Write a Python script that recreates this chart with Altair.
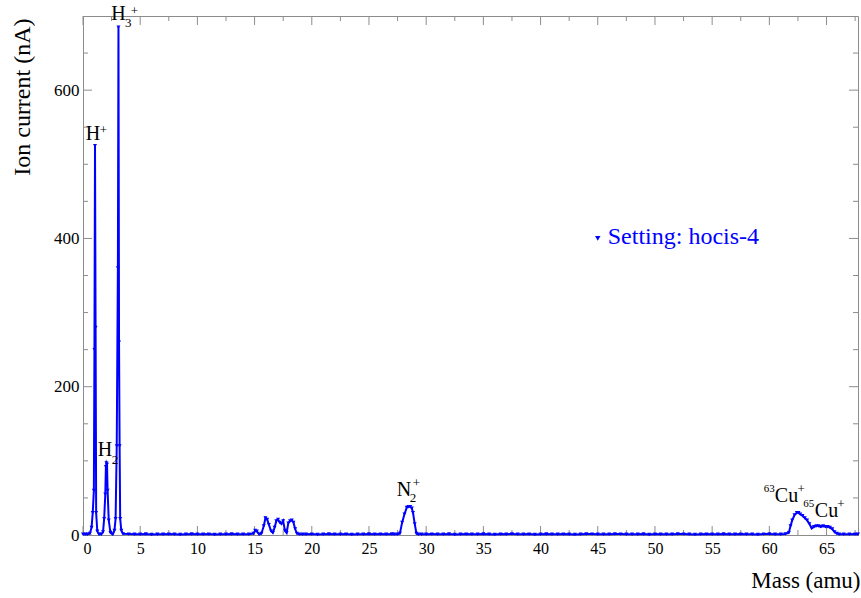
import altair as alt
import pandas as pd

# ---- measured ion current vs. mass ----
# hydrogen peaks: H+, H2+, H3+
mass_h = [0.0, 0.2, 0.4, 0.6, 0.75, 0.85, 0.95, 1.0, 1.05, 1.1, 1.15, 1.25, 1.4, 1.6,
          1.75, 1.85, 1.95, 2.0, 2.05, 2.1, 2.15, 2.25, 2.4, 2.6, 2.75, 2.85, 2.95,
          3.05, 3.1, 3.15, 3.2, 3.25, 3.35, 3.5]
curr_h = [1, 1, 1, 2, 10, 30, 60, 250, 525, 280, 30, 5, 1, 1,
          4, 22, 55, 92, 97, 95, 60, 20, 3, 1, 6, 22, 120,
          360, 685, 260, 120, 22, 6, 1.5]

# background between hydrogen and mass 15
mass_b1 = [4.0, 4.5, 5.0, 5.5, 6.0, 6.5, 7.0, 7.5, 8.0, 8.5, 9.0, 9.5, 10.0, 10.5,
           11.0, 11.5, 12.0, 12.5, 13.0, 13.5, 14.0]
curr_b1 = [1.2, 0.9, 1.0, 1.3, 0.8, 1.1, 0.9, 1.2, 1.0, 0.7, 1.1, 1.3, 0.9, 1.0,
           1.2, 0.8, 1.1, 1.0, 1.3, 0.9, 1.0]

# masses 15-19
mass_w = [14.5, 14.9, 15.05, 15.2, 15.4, 15.6, 15.8, 15.95, 16.1, 16.25, 16.45, 16.6,
          16.75, 16.9, 17.05, 17.2, 17.35, 17.5, 17.65, 17.8, 17.95, 18.1, 18.25,
          18.4, 18.55, 18.7, 18.9, 19.2]
curr_w = [1, 2, 6, 5, 1, 2, 12, 23, 21, 14, 5, 3,
          10, 19, 21, 17, 15, 19, 6, 3, 16, 19, 20,
          17, 8, 2, 1, 1]

mass_b2 = [19.5, 20.0, 20.5, 21.0, 21.5, 22.0, 22.5, 23.0, 23.5, 24.0, 24.5, 25.0,
           25.5, 26.0, 26.5, 27.0]
curr_b2 = [1.0, 1.2, 0.8, 1.1, 1.3, 0.9, 1.0, 1.2, 0.7, 1.1, 1.0, 1.3,
           0.9, 1.2, 1.0, 1.4]

# N2+
mass_n = [27.2, 27.5, 27.7, 27.9, 28.1, 28.3, 28.45, 28.6, 28.75, 28.85, 29.0, 29.15,
          29.3, 29.6]
curr_n = [1, 1, 2, 17, 28, 37, 38, 38, 36, 30, 15, 2, 1, 1]

mass_b3 = [30.0, 30.5, 31.0, 31.5, 32.0, 32.5, 33.0, 33.5, 34.0, 34.5, 35.0, 35.5,
           36.0, 36.5, 37.0, 37.5, 38.0, 38.5, 39.0, 39.5, 40.0, 40.5, 41.0, 41.5,
           42.0, 42.5, 43.0, 43.5, 44.0, 44.5, 45.0, 45.5, 46.0, 46.5, 47.0, 47.5,
           48.0, 48.5, 49.0, 49.5, 50.0, 50.5, 51.0, 51.5, 52.0, 52.5, 53.0, 53.5,
           54.0, 54.5, 55.0, 55.5, 56.0, 56.5, 57.0, 57.5, 58.0, 58.5, 59.0, 59.5,
           60.0, 60.5]
curr_b3 = [1.0, 1.2, 0.9, 1.1, 1.3, 0.8, 1.0, 1.2, 1.1, 0.9,
           1.3, 1.0, 0.8, 1.2, 1.1, 1.4, 0.9, 1.0, 1.2, 0.8,
           1.1, 1.3, 1.0, 0.9, 1.2, 1.1, 0.8, 1.0, 1.3, 1.2,
           0.9, 1.1, 1.0, 1.4, 1.2, 0.9, 1.0, 1.1, 1.3, 0.8,
           1.2, 1.0, 1.1, 0.9, 1.3, 1.2, 1.0, 0.8, 1.1, 1.2,
           0.9, 1.0, 1.3, 1.1, 0.9, 1.2, 1.0, 1.1, 0.8, 1.2,
           1.3, 1.0]

# copper isotopes 63Cu+ / 65Cu+
mass_c = [61.0, 61.4, 61.7, 61.85, 62.0, 62.2, 62.4, 62.55, 62.7, 62.9, 63.1, 63.3,
          63.5, 63.7, 63.9, 64.1, 64.3, 64.5, 64.7, 64.9, 65.1, 65.3, 65.5, 65.7,
          65.9, 66.1]
curr_c = [1, 1.5, 3, 12, 20, 27, 30, 30, 28, 26, 23, 20,
          15, 9, 11, 12, 12, 11, 12, 11, 11, 10, 8, 4,
          2, 1]

mass_b4 = [66.5, 67.0, 67.5, 67.75]
curr_b4 = [1.1, 0.9, 1.2, 1.0]

# axis ticks
x_major = [0, 5, 10, 15, 20, 25, 30, 35, 40, 45, 50, 55, 60, 65]
x_minor = [2.5, 7.5, 12.5, 17.5, 22.5, 27.5, 32.5, 37.5, 42.5, 47.5, 52.5, 57.5, 62.5, 67.5]
y_major = [0, 200, 400, 600]
y_minor = [50, 100, 150, 250, 300, 350, 450, 500, 550, 650]

# peak annotations: text, mass, current, font size
ann_text = ["H", "+", "H", "3", "+", "H", "2", "N", "2", "+",
            "63", "Cu", "+", "65", "Cu", "+"]
ann_mass = [0.87, 1.78, 3.09, 3.95, 4.5, 1.92, 2.8, 28.05, 28.85, 29.15,
            60.0, 61.5, 62.78, 63.45, 65.0, 66.25]
ann_curr = [540.5, 546.0, 702.7, 691.0, 707.0, 114.9, 100.5, 60.8, 49.5, 69.5,
            61.5, 52.7, 61.5, 41.2, 32.4, 41.2]
ann_size = [20, 13, 20, 13, 13, 20, 13, 20, 13, 13,
            11, 20, 13, 11, 20, 13]

legend_label = "Setting: hocis-4"
legend_mass = [45.0]
legend_curr = [400.0]

# ---- build tables ----
spectrum = pd.DataFrame({
    "mass": mass_h + mass_b1 + mass_w + mass_b2 + mass_n + mass_b3 + mass_c + mass_b4,
    "current": curr_h + curr_b1 + curr_w + curr_b2 + curr_n + curr_b3 + curr_c + curr_b4,
}).sort_values("mass")

ann = pd.DataFrame({"text": ann_text, "mass": ann_mass, "current": ann_curr, "fs": ann_size})
leg = pd.DataFrame({"mass": legend_mass, "current": legend_curr, "text": [legend_label]})

W, H = 775, 519
BLUE = "#0000ff"
FRAME = "#8c8c8c"
SERIF = "Liberation Serif"

xscale = alt.Scale(domain=[0, 67.75], nice=False, zero=False)
yscale = alt.Scale(domain=[0, 700], nice=False)

xaxis = alt.Axis(values=x_major, ticks=False, grid=False, domainColor=FRAME,
                 labelFont=SERIF, labelFontSize=16, labelColor="black", labelPadding=5,
                 title="Mass (amu)", titleFont=SERIF, titleFontSize=23,
                 titleFontWeight="normal", titleColor="black",
                 titleAnchor="end", titleAlign="right", titleX=W + 2, titleY=45,
                 titleBaseline="middle")
yaxis = alt.Axis(values=y_major, ticks=False, grid=False, domainColor=FRAME,
                 labelFont=SERIF, labelFontSize=17, labelColor="black", labelPadding=4,
                 title="Ion current (nA)", titleFont=SERIF, titleFontSize=24,
                 titleFontWeight="normal", titleColor="black",
                 titleAnchor="end", titleAlign="right", titleX=-61, titleY=2,
                 titleBaseline="middle")


def X(field="mass"):
    return alt.X(f"{field}:Q", scale=xscale, axis=xaxis)


def Y(field="current"):
    return alt.Y(f"{field}:Q", scale=yscale, axis=yaxis)


line = alt.Chart(spectrum).mark_line(
    color=BLUE, strokeWidth=2,
    point=alt.OverlayMarkDef(shape="triangle-down", size=16, filled=True, color=BLUE),
).encode(x=X(), y=Y())

# inward ticks on all four sides of the frame
xt_major = pd.DataFrame({"mass": x_major})
xt_minor = pd.DataFrame({"mass": x_minor})
yt_major = pd.DataFrame({"current": y_major})
yt_minor = pd.DataFrame({"current": y_minor})

tick_layers = [
    alt.Chart(xt_major).mark_rule(color=FRAME).encode(x=X(), y=alt.value(H), y2=alt.value(H - 9)),
    alt.Chart(xt_minor).mark_rule(color=FRAME).encode(x=X(), y=alt.value(H), y2=alt.value(H - 5)),
    alt.Chart(xt_major).mark_rule(color=FRAME).encode(x=X(), y=alt.value(0), y2=alt.value(9)),
    alt.Chart(xt_minor).mark_rule(color=FRAME).encode(x=X(), y=alt.value(0), y2=alt.value(5)),
    alt.Chart(yt_major).mark_rule(color=FRAME).encode(y=Y(), x=alt.value(0), x2=alt.value(9)),
    alt.Chart(yt_minor).mark_rule(color=FRAME).encode(y=Y(), x=alt.value(0), x2=alt.value(5)),
    alt.Chart(yt_major).mark_rule(color=FRAME).encode(y=Y(), x=alt.value(W), x2=alt.value(W - 9)),
    alt.Chart(yt_minor).mark_rule(color=FRAME).encode(y=Y(), x=alt.value(W), x2=alt.value(W - 5)),
]

labels = alt.Chart(ann).mark_text(font=SERIF, color="black", baseline="middle",
                                  align="center").encode(
    x=X(), y=Y(), text="text:N", size=alt.Size("fs:Q", scale=None))

legend_marker = alt.Chart(leg).mark_point(shape="triangle-down", filled=True, size=30,
                                          color=BLUE, opacity=1).encode(x=X(), y=Y())
legend_text = alt.Chart(leg).mark_text(font=SERIF, fontSize=24, color=BLUE, align="left",
                                       baseline="middle", dx=10, dy=-1).encode(
    x=X(), y=Y(), text="text:N")

chart = alt.layer(*tick_layers, line, labels, legend_marker, legend_text).properties(
    width=W, height=H,
    autosize=alt.AutoSizeParams(type="none"),
    padding={"left": 83, "top": 16, "right": 3, "bottom": 63},
    background="white",
).configure_view(stroke=FRAME, strokeWidth=1)

chart.save("out.html", embed_options={"renderer": "svg", "actions": False})
